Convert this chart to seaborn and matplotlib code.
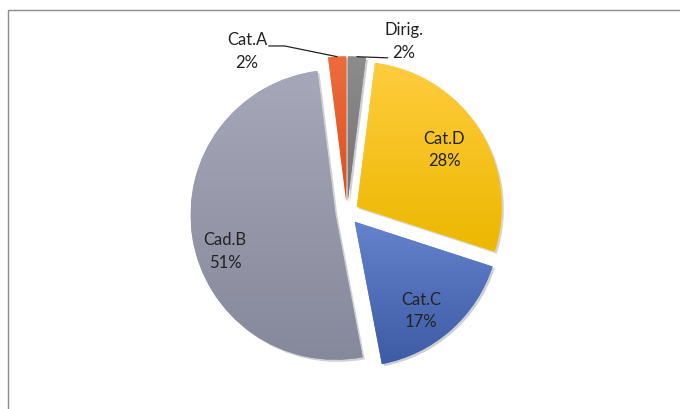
import matplotlib
matplotlib.use("Agg")
import numpy as np
import matplotlib.pyplot as plt
import matplotlib.patheffects as pe
from matplotlib.colors import to_rgb
import seaborn as sns

# data, clockwise from 12 o'clock
labels = ['Dirig.', 'Cat.D', 'Cat.C', 'Cad.B', 'Cat.A']
shares = [2, 28, 17, 51, 2]

# gradient fill per slice (top -> bottom)
top_colors = ['#8c8c8c', '#ffcc3e', '#6483cc', '#a6a8b9', '#ee6c3c']
bottom_colors = ['#747474', '#ecb800', '#3e5ba6', '#86889b', '#dc5020']

sns.set_theme(style='white')
plt.rcParams['font.family'] = ['Lato', 'DejaVu Sans']

W, H = 680, 410
fig = plt.figure(figsize=(W / 100, H / 100), dpi=100)

# pie centre (px from top-left) and radius
cx, cy, r = 347, 214, 145
lim = 1.5
ax = fig.add_axes([(cx - lim * r) / W, (H - cy - lim * r) / H,
                   2 * lim * r / W, 2 * lim * r / H])

wedges, _ = ax.pie(shares, startangle=90, counterclock=False,
                   explode=[0.08] * len(shares), colors=top_colors,
                   wedgeprops=dict(linewidth=0))

for w, c1, c2 in zip(wedges, top_colors, bottom_colors):
    w.set_path_effects([pe.SimplePatchShadow(offset=(1.5, -1.5), alpha=0.22),
                        pe.Normal()])
    bb = w.get_path().get_extents()
    grad = np.linspace(to_rgb(c1), to_rgb(c2), 64)[:, None, :]
    im = ax.imshow(grad, extent=(bb.x0, bb.x1, bb.y0, bb.y1), aspect='auto',
                   origin='upper', zorder=2, interpolation='bilinear')
    im.set_clip_path(w)

# label positions (data units, radius = 1)
label_xy = [(0.39, 1.19), (0.67, 0.44), (0.51, -0.67), (-0.84, -0.26), (-0.69, 1.12)]
for lab, s, (x, y) in zip(labels, shares, label_xy):
    ax.text(x, y, f'{lab}\n{s}%', ha='center', va='center', fontsize=12,
            color='#222222', linespacing=1.5, zorder=5)

# leader lines for the two thin slices
def tip(w):
    t = np.deg2rad((w.theta1 + w.theta2) / 2)
    return w.center[0] + w.r * np.cos(t), w.center[1] + w.r * np.sin(t)

tx, ty = tip(wedges[0])
ax.plot([tx, 0.28], [ty, 1.07], color='#222222', lw=0.9, zorder=4)
tx, ty = tip(wedges[4])
ax.plot([tx, -0.43, -0.54], [ty, 1.152, 1.152], color='#222222', lw=0.9, zorder=4)

ax.set_xlim(-lim, lim)
ax.set_ylim(-lim, lim)
ax.axis('off')

# chart area border (right and bottom edges fall outside the picture)
fig.add_artist(plt.Rectangle((7.5 / W, -0.1), 1.2, (H - 10.5) / H + 0.1,
                             transform=fig.transFigure, fill=False,
                             edgecolor='#8c8c8c', lw=1))

fig.savefig('out.png', dpi=100)
